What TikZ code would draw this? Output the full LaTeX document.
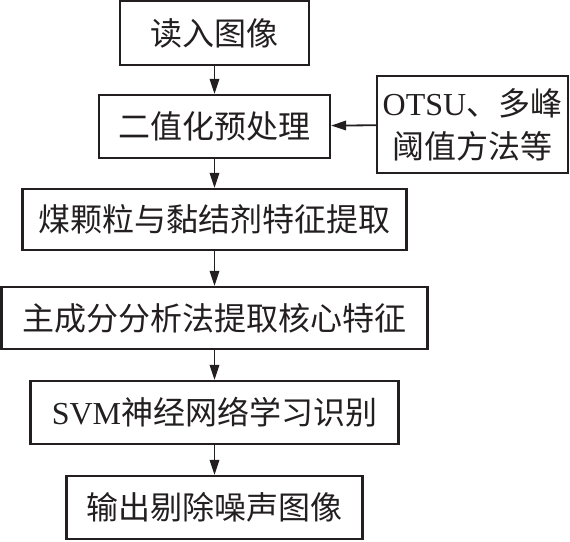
\documentclass[tikz,border=0pt]{standalone}
\usepackage{fontspec}
\setmainfont{Liberation Serif}
\newfontfamily\cjk{Noto Sans CJK SC}
\usetikzlibrary{arrows.meta}
\definecolor{ink}{HTML}{231F20}
\begin{document}
\begin{tikzpicture}[x=1pt,y=-1pt,
  box/.style={draw=ink,line width=2.2pt,inner sep=0pt,text=ink,
    font=\fontsize{32}{43}\selectfont\cjk,align=center},
  conn/.style={draw=ink,line width=1.8pt,-{Triangle[length=15pt,width=9.5pt]}}]
\useasboundingbox (0,0) rectangle (570,541);
\node[box,minimum width=189pt,minimum height=64pt] (b1) at (214.5,33) {读入图像};
\node[box,minimum width=231pt,minimum height=63pt] (b2) at (214.5,126.5) {二值化预处理};
\node[box,minimum width=191pt,minimum height=97pt] (side) at (472.5,124.5)
  {{\rmfamily OTSU}、多峰\\阈值方法等};
\node[box,minimum width=384pt,minimum height=61pt] (b3) at (214.5,219.5) {煤颗粒与黏结剂特征提取};
\node[box,minimum width=426pt,minimum height=62pt] (b4) at (214.5,318) {主成分分析法提取核心特征};
\node[box,minimum width=368pt,minimum height=63pt] (b5) at (214.5,412.5) {{\rmfamily SVM}神经网络学习识别};
\node[box,minimum width=296pt,minimum height=63pt] (b6) at (214.5,507.5) {输出剔除噪声图像};
\draw[conn] (b1) -- (b2);
\draw[conn] (side) -- (b2);
\draw[conn] (b2) -- (b3);
\draw[conn] (b3) -- (b4);
\draw[conn] (b4) -- (b5);
\draw[conn] (b5) -- (b6);
\end{tikzpicture}
\end{document}
